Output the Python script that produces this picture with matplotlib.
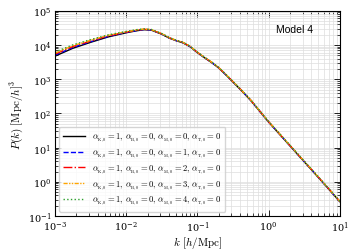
import numpy as np
import matplotlib
matplotlib.use('Agg')
import matplotlib.pyplot as plt

plt.rcParams['mathtext.fontset'] = 'cm'
plt.rcParams['font.family'] = 'serif'
plt.rcParams['font.serif'] = ['DejaVu Serif']

# log10 k [h/Mpc]
logk = [-3.0, -2.75, -2.5, -2.25, -2.0, -1.85, -1.75, -1.65, -1.5, -1.4, -1.3,
        -1.2, -1.1, -1.0, -0.9, -0.8, -0.7, -0.6, -0.5, -0.4, -0.25, 0.0,
        0.25, 0.5, 0.75, 1.0]

# log10 P(k) for alpha_M,0 = 0..4
logP_m0 = [3.675, 3.905, 4.08, 4.24, 4.36, 4.42, 4.45, 4.44, 4.32, 4.21, 4.13,
           4.065, 3.95, 3.78, 3.63, 3.49, 3.33, 3.13, 2.92, 2.71, 2.38, 1.75,
           1.17, 0.59, 0.01, -0.58]
logP_m1 = [3.705, 3.930, 4.10, 4.255, 4.37, 4.428, 4.456, 4.445, 4.325, 4.214, 4.134,
           4.069, 3.954, 3.784, 3.634, 3.494, 3.334, 3.134, 2.924, 2.714, 2.384, 1.754,
           1.174, 0.594, 0.014, -0.576]
logP_m2 = [3.735, 3.955, 4.12, 4.27, 4.38, 4.436, 4.462, 4.45, 4.33, 4.218, 4.138,
           4.073, 3.958, 3.788, 3.638, 3.498, 3.338, 3.138, 2.928, 2.718, 2.388, 1.758,
           1.178, 0.598, 0.018, -0.572]
logP_m3 = [3.765, 3.980, 4.14, 4.285, 4.39, 4.444, 4.468, 4.455, 4.335, 4.222, 4.142,
           4.077, 3.962, 3.792, 3.642, 3.502, 3.342, 3.142, 2.932, 2.722, 2.392, 1.762,
           1.182, 0.602, 0.022, -0.568]
logP_m4 = [3.795, 4.005, 4.16, 4.30, 4.40, 4.452, 4.474, 4.46, 4.34, 4.226, 4.146,
           4.081, 3.966, 3.796, 3.646, 3.506, 3.346, 3.146, 2.936, 2.726, 2.396, 1.766,
           1.186, 0.606, 0.026, -0.564]

alpha_M = [0, 1, 2, 3, 4]
colors = ['black', 'blue', 'red', 'orange', 'tab:green']
styles = ['-', '--', '-.', (0, (3, 1, 1, 1, 1, 1)), ':']
series = [logP_m0, logP_m1, logP_m2, logP_m3, logP_m4]

fig, ax = plt.subplots(figsize=(3.54, 2.53), dpi=100)
fig.subplots_adjust(left=0.155, right=0.96, top=0.953, bottom=0.142)

k = 10 ** np.array(logk)
for i in range(len(series)):
    label = (r'$\alpha_{_{\rm K,0}}=1,\,\alpha_{_{\rm B,0}}=0,\,'
             r'\alpha_{_{\rm M,0}}=%d,\,\alpha_{_{\rm T,0}}=0$' % alpha_M[i])
    ax.plot(k, 10 ** np.array(series[i]), color=colors[i], ls=styles[i],
            lw=1.0, label=label)

ax.set_xscale('log')
ax.set_yscale('log')
ax.set_xlim(1e-3, 1e1)
ax.set_ylim(1e-1, 1e5)
ax.grid(True, which='both', color='#dddddd', lw=0.5)
ax.tick_params(which='both', direction='in', top=True, right=True, labelsize=7, pad=2.5)
ax.tick_params(which='major', length=4, width=0.6)
ax.tick_params(which='minor', length=2, width=0.5)
for s in ax.spines.values():
    s.set_linewidth(0.8)
ax.set_xlabel(r'$k\ [h/{\rm Mpc}]$', fontsize=8, labelpad=0)
ax.set_ylabel(r'$P(k)\ [{\rm Mpc}/h]^3$', fontsize=8, labelpad=2)
ax.text(0.84, 0.91, 'Model 4', transform=ax.transAxes, ha='center', va='center',
        fontsize=7.5, family='Liberation Sans')
ax.legend(loc='lower left', fontsize=6.2, handlelength=2.5, labelspacing=0.3,
          borderpad=0.5, handletextpad=0.8, framealpha=0.8, edgecolor='#cccccc')

fig.savefig('out.png', dpi=100)
